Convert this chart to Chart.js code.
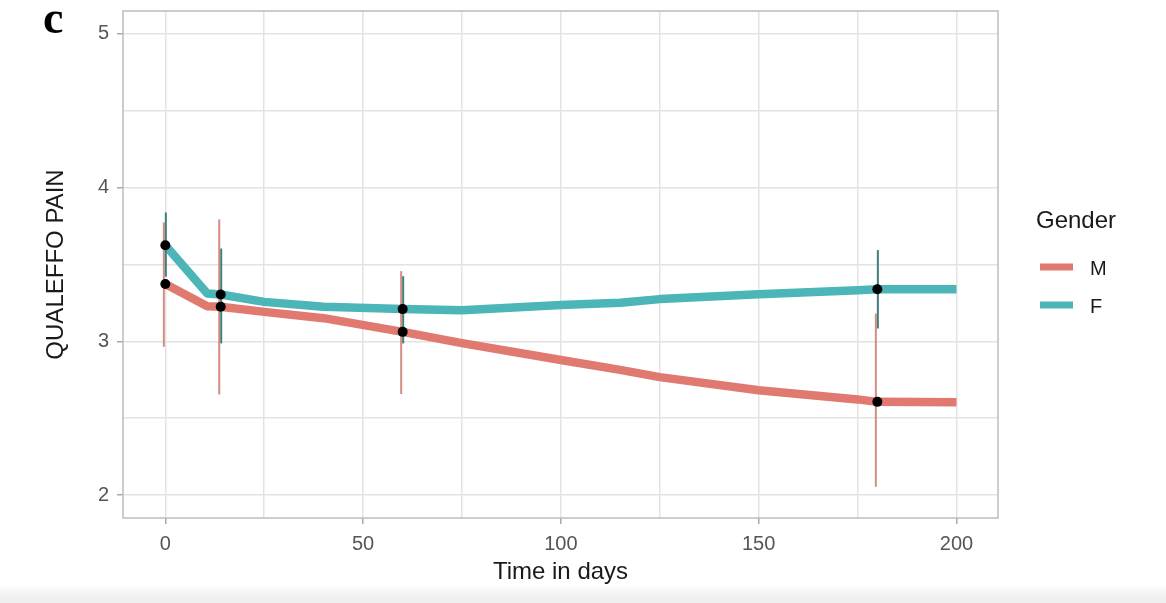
<!DOCTYPE html>
<html>
<head>
<meta charset="utf-8">
<script src="https://cdn.jsdelivr.net/npm/chart.js@4.4.1/dist/chart.umd.min.js"></script>
<style>
  html, body { margin: 0; padding: 0; width: 1166px; height: 603px; overflow: hidden;
    background: linear-gradient(to bottom, #ffffff 0px, #ffffff 584px, #f1f1f1 596px, #eeeeee 603px); }
  #wrap { position: relative; width: 1166px; height: 603px; }
  canvas { display: block; }
</style>
</head>
<body>
<div id="wrap"><canvas id="chart" width="1166" height="603"></canvas></div>
<script>
// Fitted QUALEFFO pain trajectories over time (days)
const curveDays = [0, 10.6, 14, 25, 40, 60, 75, 100, 115, 125, 150, 175, 180, 200];
const curveM    = [3.372, 3.228, 3.224, 3.191, 3.150, 3.061, 2.988, 2.878, 2.814, 2.767, 2.682, 2.622, 2.606, 2.604];
const curveF    = [3.624, 3.311, 3.304, 3.256, 3.224, 3.209, 3.202, 3.235, 3.250, 3.274, 3.306, 3.332, 3.338, 3.338];

// Observed visit means with intervals
const visitDays = [0, 14, 60, 180];
const meanM = [3.372, 3.224, 3.061, 2.606];
const lowM  = [2.964, 2.654, 2.657, 2.054];
const highM = [3.773, 3.792, 3.456, 3.180];
const meanF = [3.624, 3.304, 3.209, 3.338];
const lowF  = [3.420, 2.986, 2.986, 3.083];
const highF = [3.837, 3.603, 3.423, 3.593];

// Axes
const xTicks = [0, 25, 50, 75, 100, 125, 150, 175, 200];
const yTicks = [2, 2.5, 3, 3.5, 4, 4.5, 5];
const groupNames = ['M', 'F'];
const groupColors = ['#e0796f', '#4bb5b8'];
const barColors = ['rgba(208,128,118,0.9)', '#3f7f7e'];

const pts = (xs, ys) => xs.map((x, i) => ({ x: x, y: ys[i] }));

const sansFont = '"Liberation Sans", Arial, sans-serif';

const decor = {
  id: 'decor',
  beforeDatasetDraw(chart, args) {
    if (args.index !== 1) return;
    const ctx = chart.ctx;
    const xs = chart.scales.x, ys = chart.scales.y;
    const sets = [[lowM, highM, -1.5], [lowF, highF, 0.5]];
    ctx.save();
    ctx.lineWidth = 2;
    sets.forEach((s, g) => {
      ctx.strokeStyle = barColors[g];
      visitDays.forEach((d, i) => {
        const px = xs.getPixelForValue(d) + s[2];
        ctx.beginPath();
        ctx.moveTo(px, ys.getPixelForValue(s[0][i]));
        ctx.lineTo(px, ys.getPixelForValue(s[1][i]));
        ctx.stroke();
      });
    });
    ctx.restore();
  },
  afterDraw(chart) {
    const ctx = chart.ctx;
    const a = chart.chartArea;
    ctx.save();
    // panel border
    ctx.strokeStyle = '#bcbcbc';
    ctx.lineWidth = 1.5;
    ctx.strokeRect(a.left, a.top, a.right - a.left, a.bottom - a.top);

    // axis titles
    ctx.fillStyle = '#1a1a1a';
    ctx.font = '24px ' + sansFont;
    ctx.textAlign = 'center';
    ctx.textBaseline = 'alphabetic';
    ctx.fillText('Time in days', (a.left + a.right) / 2, 579);
    ctx.save();
    ctx.translate(63, (a.top + a.bottom) / 2);
    ctx.rotate(-Math.PI / 2);
    ctx.fillText('QUALEFFO PAIN', 0, 0);
    ctx.restore();

    // legend
    ctx.textAlign = 'left';
    ctx.font = '24px ' + sansFont;
    ctx.fillText('Gender', 1036, 228);
    ctx.font = '20px ' + sansFont;
    groupNames.forEach((name, i) => {
      const cy = 267 + i * 38;
      ctx.strokeStyle = groupColors[i];
      ctx.lineWidth = 7;
      ctx.beginPath();
      ctx.moveTo(1040, cy);
      ctx.lineTo(1073, cy);
      ctx.stroke();
      ctx.fillStyle = '#1a1a1a';
      ctx.fillText(name, 1090, cy + 7.5);
    });

    // panel tag
    ctx.font = 'bold 46px "Liberation Serif", "Times New Roman", serif';
    ctx.fillStyle = '#000';
    ctx.fillText('c', 43, 33);
    ctx.restore();
  }
};

new Chart(document.getElementById('chart'), {
  type: 'line',
  data: {
    datasets: [
      { label: 'M points', data: pts(visitDays, meanM), showLine: false,
        pointRadius: 5, pointBackgroundColor: '#000', pointBorderWidth: 0 },
      { label: 'F points', data: pts(visitDays, meanF), showLine: false,
        pointRadius: 5, pointBackgroundColor: '#000', pointBorderWidth: 0 },
      { label: 'F', data: pts(curveDays, curveF), borderColor: groupColors[1], borderWidth: 8.5,
        pointRadius: 0, tension: 0, borderJoinStyle: 'round', borderCapStyle: 'butt' },
      { label: 'M', data: pts(curveDays, curveM), borderColor: groupColors[0], borderWidth: 8.5,
        pointRadius: 0, tension: 0, borderJoinStyle: 'round', borderCapStyle: 'butt' }
    ]
  },
  options: {
    responsive: false,
    devicePixelRatio: 1,
    animation: false,
    events: [],
    layout: { padding: { top: 11, right: 168, left: 0, bottom: 0 } },
    plugins: { legend: { display: false }, tooltip: { enabled: false } },
    scales: {
      x: {
        type: 'linear', min: -10.7, max: 210.5,
        afterBuildTicks: s => { s.ticks = xTicks.map(v => ({ value: v })); },
        afterFit: s => { s.height = 85; s.paddingLeft = 0; s.paddingRight = 0; },
        ticks: {
          autoSkip: false, maxRotation: 0, padding: 8,
          color: '#555', font: { family: sansFont, size: 20 },
          callback: v => (v % 50 === 0 ? String(v) : '')
        },
        grid: {
          color: '#e3e3e3', lineWidth: 1.5, tickLength: 6, tickWidth: 1.5,
          tickColor: c => (c.tick && c.tick.value % 50 === 0 ? '#a8a8a8' : 'rgba(0,0,0,0)')
        },
        border: { display: false }
      },
      y: {
        type: 'linear', min: 1.851, max: 5.147,
        afterBuildTicks: s => { s.ticks = yTicks.map(v => ({ value: v })); },
        afterFit: s => { s.width = 123; s.paddingTop = 0; s.paddingBottom = 0; },
        ticks: {
          autoSkip: false, padding: 8,
          color: '#555', font: { family: sansFont, size: 20 },
          callback: v => (Number.isInteger(v) ? String(v) : '')
        },
        grid: {
          color: '#e3e3e3', lineWidth: 1.5, tickLength: 6, tickWidth: 1.5,
          tickColor: c => (c.tick && Number.isInteger(c.tick.value) ? '#a8a8a8' : 'rgba(0,0,0,0)')
        },
        border: { display: false }
      }
    }
  },
  plugins: [decor]
});
</script>
</body>
</html>
